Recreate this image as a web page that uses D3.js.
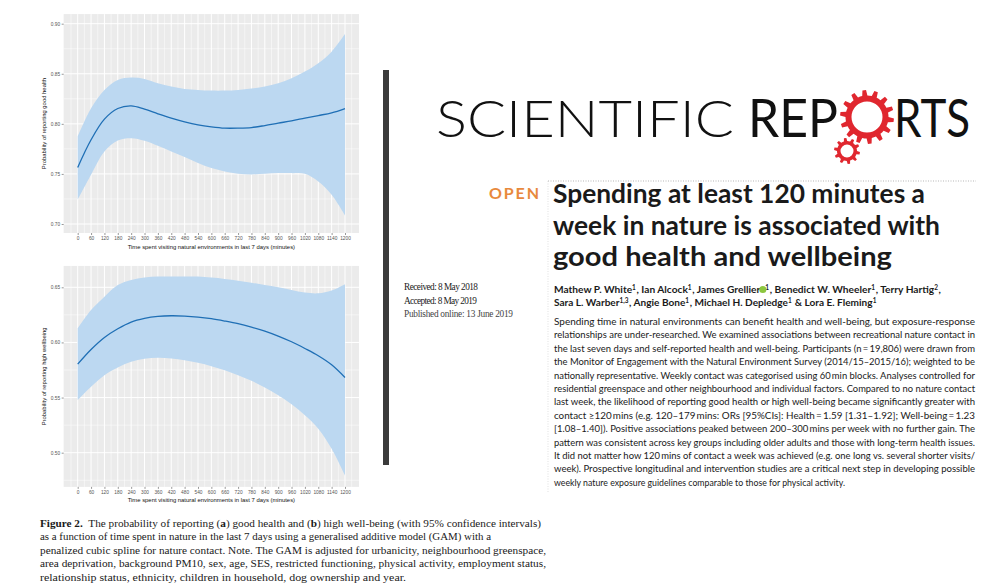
<!DOCTYPE html>
<html><head><meta charset="utf-8">
<script src="https://cdn.jsdelivr.net/npm/d3@7"></script>
<style>body{margin:0;background:#fff;} svg{display:block}</style>
</head><body>
<svg id="c" width="1002" height="587"></svg>
<script>
// ---------------- data ----------------
const minutes = [0,60,120,180,240,300,360,420,480,540,600,660,720,780,840,900,960,1020,1080,1140,1200];
const xTickLabels = minutes;
const healthFit = [0.7565,0.7841,0.8047,0.8153,0.8179,0.8146,0.8100,0.8057,0.8020,0.7990,0.7970,0.7957,0.7957,0.7963,0.7983,0.8007,0.8030,0.8057,0.8083,0.8110,0.8153];
const healthLo  = [0.7243,0.7492,0.7724,0.7834,0.7857,0.7831,0.7781,0.7724,0.7668,0.7608,0.7558,0.7525,0.7502,0.7495,0.7502,0.7508,0.7508,0.7502,0.7425,0.7292,0.7086];
const healthHi  = [0.7874,0.8156,0.8339,0.8439,0.8462,0.8449,0.8405,0.8372,0.8349,0.8339,0.8332,0.8332,0.8339,0.8352,0.8372,0.8405,0.8455,0.8522,0.8605,0.8721,0.8897];
const wellFit = [0.5803,0.5936,0.6045,0.6124,0.6185,0.6218,0.6236,0.6242,0.6239,0.6230,0.6215,0.6194,0.6170,0.6139,0.6103,0.6058,0.6006,0.5945,0.5879,0.5797,0.5682];
const wellLo  = [0.5476,0.5597,0.5703,0.5773,0.5824,0.5852,0.5861,0.5855,0.5839,0.5815,0.5785,0.5748,0.5703,0.5652,0.5591,0.5521,0.5439,0.5339,0.5218,0.5036,0.4794];
const wellHi  = [0.6127,0.6294,0.6415,0.6520,0.6567,0.6590,0.6597,0.6597,0.6597,0.6597,0.6588,0.6576,0.6560,0.6542,0.6520,0.6500,0.6476,0.6452,0.6445,0.6470,0.6527];
const healthYTicks = [0.70,0.75,0.80,0.85,0.90];
const wellYTicks = [0.50,0.55,0.60,0.65];
const xTitle = "Time spent visiting natural environments in last 7 days (minutes)";
const healthYTitle = "Probability of reporting good health";
const wellYTitle = "Probability of reporting high wellbeing";

const svg = d3.select("#c");

// ---------------- panels ----------------
function drawPanel(cfg){
  const g = svg.append("g");
  const x = d3.scaleLinear().domain([0,1200]).range([77.7,345]);
  const y = d3.scaleLinear().domain(cfg.yDom).range(cfg.yRange);
  const px0 = x(-63), px1 = x(1263);
  const py0 = y(cfg.yPanel[1]), py1 = y(cfg.yPanel[0]);
  g.append("rect").attr("x",px0).attr("y",py0).attr("width",px1-px0).attr("height",py1-py0).attr("fill","#ebebeb");
  const vMinor = d3.range(-30,1260,60);
  g.selectAll(".vmin").data(vMinor).join("line").attr("x1",d=>x(d)).attr("x2",d=>x(d)).attr("y1",py0).attr("y2",py1).attr("stroke","#fff").attr("stroke-width",0.5);
  g.selectAll(".hmin").data(cfg.yMinor).join("line").attr("y1",d=>y(d)).attr("y2",d=>y(d)).attr("x1",px0).attr("x2",px1).attr("stroke","#fff").attr("stroke-width",0.5);
  g.selectAll(".vmaj").data(minutes).join("line").attr("x1",d=>x(d)).attr("x2",d=>x(d)).attr("y1",py0).attr("y2",py1).attr("stroke","#fff").attr("stroke-width",1);
  g.selectAll(".hmaj").data(cfg.yTicks).join("line").attr("y1",d=>y(d)).attr("y2",d=>y(d)).attr("x1",px0).attr("x2",px1).attr("stroke","#fff").attr("stroke-width",1);
  const rows = minutes.map((m,i)=>({m, f:cfg.fit[i], lo:cfg.lo[i], hi:cfg.hi[i]}));
  const area = d3.area().x(d=>x(d.m)).y0(d=>y(d.lo)).y1(d=>y(d.hi)).curve(d3.curveCatmullRom);
  g.append("path").attr("d",area(rows)).attr("fill","#bcd8f1");
  const line = d3.line().x(d=>x(d.m)).y(d=>y(d.f)).curve(d3.curveCatmullRom);
  g.append("path").attr("d",line(rows)).attr("fill","none").attr("stroke","#1f6fb5").attr("stroke-width",1.3);
  const xa = g.append("g").attr("transform",`translate(0,${py1})`)
    .call(d3.axisBottom(x).tickValues(xTickLabels).tickSize(2).tickPadding(1.5).tickFormat(d3.format("d")));
  const ya = g.append("g").attr("transform",`translate(${px0},0)`)
    .call(d3.axisLeft(y).tickValues(cfg.yTicks).tickSize(2).tickPadding(1.5).tickFormat(d3.format(".2f")));
  [xa,ya].forEach(a=>{
    a.select(".domain").remove();
    a.selectAll(".tick line").attr("stroke","#333").attr("stroke-width",0.5);
    a.selectAll(".tick text").attr("fill","#555").attr("font-size",4.8).attr("font-family","Liberation Sans, Arial, sans-serif");
  });
  g.append("text").attr("x",(px0+px1)/2).attr("y",py1+15.5).attr("text-anchor","middle")
    .attr("font-family","Liberation Sans, Arial, sans-serif").attr("font-size",5.9).attr("fill","#111").text(xTitle);
  g.append("text").attr("transform",`translate(45.5,${(py0+py1)/2}) rotate(-90)`).attr("text-anchor","middle")
    .attr("font-family","Liberation Sans, Arial, sans-serif").attr("font-size",5.9).attr("fill","#111").text(cfg.yTitle);
}
drawPanel({yDom:[0.70,0.90], yRange:[224,23.7], yPanel:[0.691,0.9096], yTicks:healthYTicks,
  yMinor:[0.725,0.775,0.825,0.875], fit:healthFit, lo:healthLo, hi:healthHi, yTitle:healthYTitle});
drawPanel({yDom:[0.50,0.65], yRange:[452.7,287.3], yPanel:[0.469,0.6694], yTicks:wellYTicks,
  yMinor:[0.475,0.525,0.575,0.625], fit:wellFit, lo:wellLo, hi:wellHi, yTitle:wellYTitle});

// ---------------- article header ----------------
svg.append("rect").attr("x",383).attr("y",70).attr("width",6).attr("height",395).attr("fill","#3b3b3b");

const logo = svg.append("g").attr("font-family","Lato, 'Open Sans', sans-serif");
logo.append("text").attr("x",436).attr("y",137).attr("font-size",52).attr("font-weight",300)
  .attr("textLength",298).attr("lengthAdjust","spacingAndGlyphs").attr("fill","#111").text("SCIENTIFIC");
logo.append("text").attr("x",748).attr("y",137).attr("font-size",52).attr("font-weight",400)
  .attr("textLength",90).attr("lengthAdjust","spacingAndGlyphs").attr("fill","#111").text("REP");
logo.append("text").attr("x",894).attr("y",137).attr("font-size",52).attr("font-weight",400)
  .attr("textLength",76).attr("lengthAdjust","spacingAndGlyphs").attr("fill","#111").text("RTS");

function gear(cx,cy,ro,rr,rh,n){
  const p = d3.path(); const st = 2*Math.PI/n;
  for(let i=0;i<n;i++){
    const a=i*st;
    const pts=[[rr,a],[ro,a+st*0.12],[ro,a+st*0.42],[rr,a+st*0.54]];
    pts.forEach(([r,t],j)=>{const X=cx+r*Math.cos(t),Y=cy+r*Math.sin(t); (i===0&&j===0)?p.moveTo(X,Y):p.lineTo(X,Y);});
    p.arc(cx,cy,rr,a+st*0.54,a+st,false);
  }
  p.closePath();
  p.moveTo(cx+rh,cy); p.arc(cx,cy,rh,0,2*Math.PI,false); p.closePath();
  return p.toString();
}
logo.append("path").attr("d",gear(867,117,27,21.5,15.5,14)).attr("fill","#e0272f").attr("fill-rule","evenodd");
logo.append("path").attr("d",gear(847,151,13,10,6.5,10)).attr("fill","#e0272f").attr("fill-rule","evenodd");

svg.append("line").attr("x1",548).attr("x2",976).attr("y1",181).attr("y2",181).attr("stroke","#999").attr("stroke-width",0.7).attr("stroke-dasharray","1,1.5");
svg.append("line").attr("x1",548).attr("x2",548).attr("y1",181).attr("y2",492).attr("stroke","#ccc").attr("stroke-width",0.6).attr("stroke-dasharray","1,1.5");

svg.append("text").attr("x",489).attr("y",199).attr("font-family","Lato, sans-serif").attr("font-weight",700)
  .attr("font-size",16).attr("fill","#e8893d").attr("textLength",50).text("OPEN");

const titleLines = ["Spending at least 120 minutes a","week in nature is associated with","good health and wellbeing"];
const titleWidths = [372,387,339];
svg.selectAll(".tl").data(titleLines).join("text").attr("x",553).attr("y",(d,i)=>203+i*31.5)
  .attr("font-family","Lato, sans-serif").attr("font-weight",700).attr("font-size",26).attr("fill","#1a1a1a")
  .attr("textLength",(d,i)=>titleWidths[i]).attr("lengthAdjust","spacingAndGlyphs").text(d=>d);

// dates
const dates = ["Received: 8 May 2018","Accepted: 8 May 2019","Published online: 13 June 2019"];
const dateW = [74,73,109];
svg.selectAll(".dt").data(dates).join("text").attr("x",404).attr("y",(d,i)=>290+i*13.5)
  .attr("font-family","Liberation Serif, 'Times New Roman', serif").attr("font-size",9.3)
  .attr("fill",(d,i)=>i===2?"#444":"#222").attr("textLength",(d,i)=>dateW[i]).text(d=>d);

// authors
function authorLine(y, parts, w){
  const t = svg.append("text").attr("x",554).attr("y",y).attr("font-family","Lato, sans-serif").attr("font-weight",700)
    .attr("font-size",10.2).attr("fill","#1a1a1a").attr("textLength",w).attr("lengthAdjust","spacingAndGlyphs");
  let idx = 0, markIdx = -1;
  parts.forEach(p=>{
    if(p.sup){ t.append("tspan").attr("dy",-3.5).attr("font-size",6.5).text(p.s); t.append("tspan").attr("dy",3.5).text("\u200a"); idx += p.s.length+1; }
    else { if(p.mark) markIdx = idx; t.append("tspan").text(p.s); idx += p.s.length; }
  });
  return {t, markIdx};
}
const a1 = authorLine(293,[{s:"Mathew P. White"},{s:"1",sup:1},{s:", Ian Alcock"},{s:"1",sup:1},{s:", James Grellier"},{s:"\u2002",mark:1},{s:"1",sup:1},
  {s:", Benedict W. Wheeler"},{s:"1",sup:1},{s:", Terry Hartig"},{s:"2",sup:1},{s:","}],387);
authorLine(306,[{s:"Sara L. Warber"},{s:"1,3",sup:1},{s:", Angie Bone"},{s:"1",sup:1},{s:", Michael H. Depledge"},{s:"1",sup:1},
  {s:" & Lora E. Fleming"},{s:"1",sup:1}],323);
let orcidX = 762;
try { const ext = a1.t.node().getExtentOfChar(a1.markIdx); orcidX = ext.x + ext.width/2; } catch(e) {}
svg.append("circle").attr("cx",orcidX).attr("cy",289.5).attr("r",3.6).attr("fill","#8cc63f");

// abstract
const abstractLines = [
"Spending time in natural environments can benefit health and well-being, but exposure-response",
"relationships are under-researched. We examined associations between recreational nature contact in",
"the last seven days and self-reported health and well-being. Participants (n\u2009=\u200919,806) were drawn from",
"the Monitor of Engagement with the Natural Environment Survey (2014/15\u20132015/16); weighted to be",
"nationally representative. Weekly contact was categorised using 60\u2009min blocks. Analyses controlled for",
"residential greenspace and other neighbourhood and individual factors. Compared to no nature contact",
"last week, the likelihood of reporting good health or high well-being became significantly greater with",
"contact \u2265120\u2009mins (e.g. 120\u2013179\u2009mins: ORs [95%CIs]: Health\u2009=\u20091.59 [1.31\u20131.92]; Well-being\u2009=\u20091.23",
"[1.08\u20131.40]). Positive associations peaked between 200\u2013300\u2009mins per week with no further gain. The",
"pattern was consistent across key groups including older adults and those with long-term health issues.",
"It did not matter how 120\u2009mins of contact a week was achieved (e.g. one long vs. several shorter visits/",
"week). Prospective longitudinal and intervention studies are a critical next step in developing possible",
"weekly nature exposure guidelines comparable to those for physical activity."];
svg.selectAll(".ab").data(abstractLines).join("text").attr("x",554).attr("y",(d,i)=>325+i*13.4)
  .attr("font-family","Lato, sans-serif").attr("font-size",9.4).attr("font-weight",400).attr("fill","#1a1a1a")
  .attr("textLength",(d,i)=>i<12?421:291).attr("lengthAdjust","spacingAndGlyphs").text(d=>d);

// caption
const capLines = [
 [{s:"Figure 2.",b:1},{s:"\u2002The probability of reporting ("},{s:"a",b:1},{s:") good health and ("},{s:"b",b:1},{s:") high well-being (with 95% confidence intervals)"}],
 [{s:"as a function of time spent in nature in the last 7 days using a generalised additive model (GAM) with a"}],
 [{s:"penalized cubic spline for nature contact. Note. The GAM is adjusted for urbanicity, neighbourhood greenspace,"}],
 [{s:"area deprivation, background PM10, sex, age, SES, restricted functioning, physical activity, employment status,"}],
 [{s:"relationship status, ethnicity, children in household, dog ownership and year."}]];
const capW = [501,451,506,506,366];
capLines.forEach((parts,i)=>{
  const t = svg.append("text").attr("x",40).attr("y",527+i*13.4).attr("font-family","Liberation Serif, 'Times New Roman', serif")
    .attr("font-size",11.3).attr("fill","#1a1a1a").attr("textLength",capW[i]).attr("lengthAdjust","spacingAndGlyphs");
  parts.forEach(p=>t.append("tspan").attr("font-weight",p.b?700:400).text(p.s));
});
</script>
</body></html>
